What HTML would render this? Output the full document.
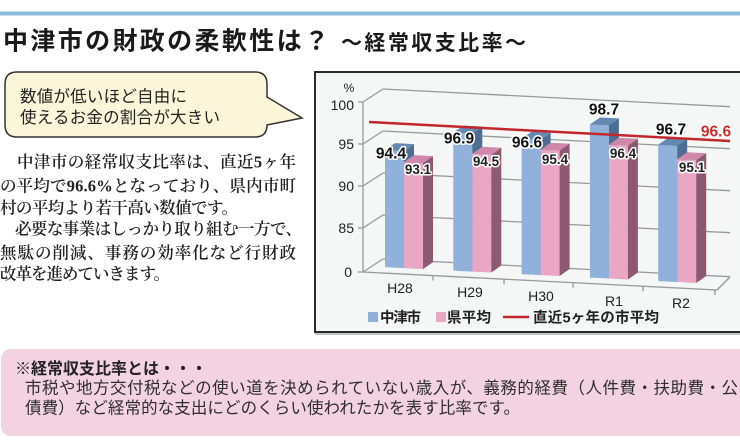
<!DOCTYPE html>
<html lang="ja">
<head>
<meta charset="utf-8">
<style>
  html, body { margin:0; padding:0; background:#ffffff; }
  body { width:740px; height:440px; overflow:hidden; position:relative; }
  svg { position:absolute; left:0; top:0; display:block; }
  .g { font-family:"Liberation Sans","Noto Sans CJK JP",sans-serif; }
  .m { font-family:"Liberation Serif","Noto Serif CJK SC",serif; }
  .lbl { font-family:"Liberation Sans",sans-serif; font-weight:bold; paint-order:stroke; stroke:#ffffff; stroke-linejoin:round; }
</style>
</head>
<body>
<svg width="740" height="440" viewBox="0 0 740 440" xmlns="http://www.w3.org/2000/svg">
  <!-- top blue rule -->
  <rect x="0" y="11.5" width="740" height="4" fill="#8dbad9"/>

  <!-- title -->
  <text class="g" x="3" y="49.5" font-size="25" font-weight="bold" fill="#1a1a1a" textLength="326" lengthAdjust="spacing">中津市の財政の柔軟性は？</text>
  <text class="g" x="341" y="50" font-size="21" font-weight="bold" fill="#1a1a1a" textLength="185" lengthAdjust="spacing">～経常収支比率～</text>

  <!-- speech bubble -->
  <path d="M17,72 H255 Q267,72 267,84 V97 L302,118 L267,125 Q267,137 255,137 H17 Q5,137 5,125 V84 Q5,72 17,72 Z" fill="#fbf5d9" stroke="#333" stroke-width="1.5"/>
  <text class="g" x="20" y="102" font-size="16.5" fill="#222" textLength="167" lengthAdjust="spacing">数値が低いほど自由に</text>
  <text class="g" x="20" y="123" font-size="16.5" fill="#222" textLength="200" lengthAdjust="spacing">使えるお金の割合が大きい</text>

  <!-- body text -->
  <g class="m" font-size="16.5" font-weight="600" fill="#222">
    <text x="17" y="167.3" textLength="279" lengthAdjust="spacing">中津市の経常収支比率は、直近5ヶ年</text>
    <text x="0" y="191.3" textLength="296" lengthAdjust="spacing">の平均で96.6%となっており、県内市町</text>
    <text x="0" y="213.3" textLength="238" lengthAdjust="spacing">村の平均より若干高い数値です。</text>
    <text x="15" y="234.3" textLength="287" lengthAdjust="spacing">必要な事業はしっかり取り組む一方で、</text>
    <text x="0" y="258.3" textLength="296" lengthAdjust="spacing">無駄の削減、事務の効率化など行財政</text>
    <text x="0" y="279.3" textLength="170" lengthAdjust="spacing">改革を進めていきます。</text>
  </g>

  <!-- chart box -->
  <rect x="315" y="72" width="440" height="260" fill="#f5f6f6" stroke="#2a2a2a" stroke-width="2"/>
  <line x1="315" y1="334" x2="740" y2="334" stroke="#888" stroke-width="1"/>

  <!-- grid -->
  <g stroke="#9a9a9a" stroke-width="1.3" fill="none">
    <line x1="363" y1="102" x2="383" y2="89"/>
    <line x1="363" y1="144" x2="383" y2="131"/>
    <line x1="363" y1="186" x2="383" y2="173"/>
    <line x1="363" y1="228" x2="383" y2="215"/>
    <line x1="363" y1="272" x2="383" y2="259"/>
    <line x1="383" y1="89" x2="730" y2="106.7"/>
    <line x1="383" y1="131" x2="730" y2="148.7"/>
    <line x1="383" y1="173" x2="730" y2="190.7"/>
    <line x1="383" y1="215" x2="730" y2="232.7"/>
    <line x1="383" y1="259" x2="730" y2="276.7"/>
    <line x1="363" y1="102" x2="363" y2="272"/>
    <line x1="358" y1="102" x2="363" y2="102"/>
    <line x1="358" y1="144" x2="363" y2="144"/>
    <line x1="358" y1="186" x2="363" y2="186"/>
    <line x1="358" y1="228" x2="363" y2="228"/>
    <line x1="358" y1="272" x2="363" y2="272"/>
    <line x1="363" y1="272" x2="717" y2="290"/>
    <line x1="717" y1="290" x2="730" y2="277"/>
    <line x1="433" y1="275.6" x2="433" y2="280.6"/>
    <line x1="504" y1="279.2" x2="504" y2="284.2"/>
    <line x1="573" y1="282.7" x2="573" y2="287.7"/>
    <line x1="643" y1="286.3" x2="643" y2="291.3"/>
    <line x1="715" y1="290" x2="715" y2="295"/>
  </g>

  <!-- bars -->
  <g>
    <!-- H28 -->
    <polygon points="385,150.1 404,151.1 404,268.1 385,267.1" fill="#8fb1da"/>
    <polygon points="385,150.1 404,151.1 414,144.1 395,143.1" fill="#6389b3"/>
    <polygon points="404,151.1 414,144.1 414,261.1 404,268.1" fill="#4d6d92"/>
    <polygon points="404,162.1 423,163.1 423,269.1 404,268.1" fill="#e9a6c5"/>
    <polygon points="404,162.1 423,163.1 433,156.1 414,155.1" fill="#cf88a9"/>
    <polygon points="423,163.1 433,156.1 433,262.1 423,269.1" fill="#8c5872"/>
    <!-- H29 -->
    <polygon points="453.3,132.6 472.3,133.6 472.3,271.6 453.3,270.6" fill="#8fb1da"/>
    <polygon points="453.3,132.6 472.3,133.6 482.3,126.6 463.3,125.6" fill="#6389b3"/>
    <polygon points="472.3,133.6 482.3,126.6 482.3,264.6 472.3,271.6" fill="#4d6d92"/>
    <polygon points="472.3,153.8 491.3,154.7 491.3,272.5 472.3,271.6" fill="#e9a6c5"/>
    <polygon points="472.3,153.8 491.3,154.7 501.3,147.7 482.3,146.8" fill="#cf88a9"/>
    <polygon points="491.3,154.7 501.3,147.7 501.3,265.5 491.3,272.5" fill="#8c5872"/>
    <!-- H30 -->
    <polygon points="521.6,138.7 540.6,139.7 540.6,275.1 521.6,274.1" fill="#8fb1da"/>
    <polygon points="521.6,138.7 540.6,139.7 550.6,132.7 531.6,131.7" fill="#6389b3"/>
    <polygon points="540.6,139.7 550.6,132.7 550.6,268.1 540.6,275.1" fill="#4d6d92"/>
    <polygon points="540.6,149.7 559.6,150.6 559.6,276.0 540.6,275.1" fill="#e9a6c5"/>
    <polygon points="540.6,149.7 559.6,150.6 569.6,143.6 550.6,142.7" fill="#cf88a9"/>
    <polygon points="559.6,150.6 569.6,143.6 569.6,269.0 559.6,276.0" fill="#8c5872"/>
    <!-- R1 -->
    <polygon points="589.9,124.5 608.9,125.4 608.9,278.5 589.9,277.6" fill="#8fb1da"/>
    <polygon points="589.9,124.5 608.9,125.4 618.9,118.4 599.9,117.5" fill="#6389b3"/>
    <polygon points="608.9,125.4 618.9,118.4 618.9,271.5 608.9,278.5" fill="#4d6d92"/>
    <polygon points="608.9,144.7 627.9,145.7 627.9,279.5 608.9,278.5" fill="#e9a6c5"/>
    <polygon points="608.9,144.7 627.9,145.7 637.9,138.7 618.9,137.7" fill="#cf88a9"/>
    <polygon points="627.9,145.7 637.9,138.7 637.9,272.5 627.9,279.5" fill="#8c5872"/>
    <!-- R2 -->
    <polygon points="658.2,144.8 677.2,145.7 677.2,282.0 658.2,281.1" fill="#8fb1da"/>
    <polygon points="658.2,144.8 677.2,145.7 687.2,138.7 668.2,137.8" fill="#6389b3"/>
    <polygon points="677.2,145.7 687.2,138.7 687.2,275.0 677.2,282.0" fill="#4d6d92"/>
    <polygon points="677.2,159.2 696.2,160.2 696.2,283.0 677.2,282.0" fill="#e9a6c5"/>
    <polygon points="677.2,159.2 696.2,160.2 706.2,153.2 687.2,152.2" fill="#cf88a9"/>
    <polygon points="696.2,160.2 706.2,153.2 706.2,276.0 696.2,283.0" fill="#8c5872"/>
  </g>

  <!-- average line -->
  <line x1="369" y1="122" x2="730" y2="141" stroke="#c1272d" stroke-width="2.5"/>

  <!-- y axis labels -->
  <g font-family="Liberation Sans, sans-serif" font-size="14" fill="#222" text-anchor="end">
    <text x="354" y="110">100</text>
    <text x="354" y="149">95</text>
    <text x="354" y="191">90</text>
    <text x="354" y="233">85</text>
    <text x="352" y="277">0</text>
  </g>
  <text x="349" y="92" font-family="Liberation Sans, sans-serif" font-size="12" fill="#222" text-anchor="middle">%</text>

  <!-- category labels -->
  <g font-family="Liberation Sans, sans-serif" font-size="14" fill="#222" text-anchor="middle">
    <text x="400" y="293">H28</text>
    <text x="470" y="297">H29</text>
    <text x="541" y="301">H30</text>
    <text x="614" y="306">R1</text>
    <text x="681" y="308">R2</text>
  </g>

  <!-- value labels -->
  <g class="lbl" font-size="15.5" fill="#111" stroke-width="3" text-anchor="middle">
    <text x="391" y="158.5">94.4</text>
    <text x="459" y="143.5">96.9</text>
    <text x="527" y="147.5">96.6</text>
    <text x="604" y="114.5">98.7</text>
    <text x="671" y="134.5">96.7</text>
  </g>
  <g class="lbl" font-size="13.5" fill="#222" stroke-width="3" text-anchor="middle">
    <text x="418" y="174">93.1</text>
    <text x="486" y="166">94.5</text>
    <text x="555" y="164">95.4</text>
    <text x="623" y="158">96.4</text>
    <text x="692" y="172">95.1</text>
  </g>
  <text class="lbl" x="716" y="136.5" font-size="15.5" fill="#c8302f" stroke-width="2.5" text-anchor="middle">96.6</text>

  <!-- legend -->
  <rect x="368" y="312" width="10" height="10" fill="#8fb1da"/>
  <text class="g" x="380" y="322.5" font-size="14.5" font-weight="bold" fill="#222" textLength="41" lengthAdjust="spacing">中津市</text>
  <rect x="436" y="312" width="10" height="10" fill="#e9a6c5"/>
  <text class="g" x="447" y="322.5" font-size="14.5" font-weight="bold" fill="#222" textLength="44" lengthAdjust="spacing">県平均</text>
  <line x1="503" y1="317" x2="529" y2="317" stroke="#c1272d" stroke-width="2.5"/>
  <text class="g" x="533" y="322.5" font-size="14.5" font-weight="bold" fill="#222" textLength="126" lengthAdjust="spacing">直近5ヶ年の市平均</text>

  <!-- pink note box -->
  <rect x="1" y="349" width="770" height="87" rx="10" ry="10" fill="#f3d3e1"/>
  <text class="g" x="15" y="374" font-size="16" font-weight="bold" fill="#222" textLength="192" lengthAdjust="spacing">※経常収支比率とは・・・</text>
  <text class="g" x="25" y="393.5" font-size="16.5" fill="#2e2e2e" textLength="713" lengthAdjust="spacing">市税や地方交付税などの使い道を決められていない歳入が、義務的経費（人件費・扶助費・公</text>
  <text class="g" x="25" y="413.5" font-size="16.5" fill="#2e2e2e" textLength="495" lengthAdjust="spacing">債費）など経常的な支出にどのくらい使われたかを表す比率です。</text>
</svg>
</body>
</html>
